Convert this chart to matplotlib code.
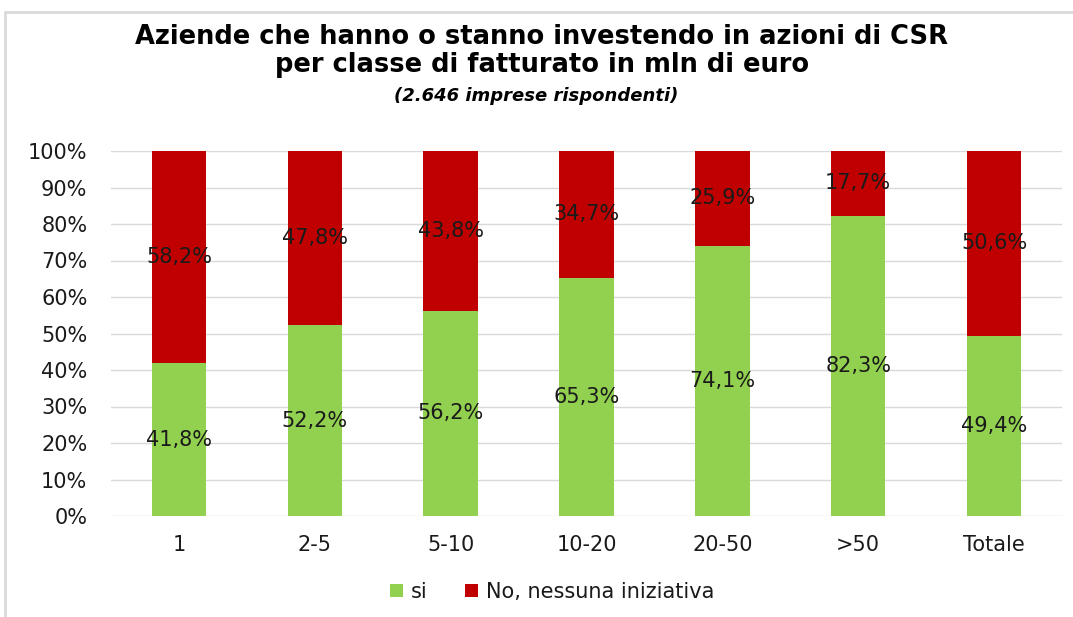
import matplotlib.pyplot as plt
from matplotlib.patches import Rectangle

categories = ["1", "2-5", "5-10", "10-20", "20-50", ">50", "Totale"]
si = [41.8, 52.2, 56.2, 65.3, 74.1, 82.3, 49.4]
no = [58.2, 47.8, 43.8, 34.7, 25.9, 17.7, 50.6]

green = "#92D050"
red = "#C00000"

plt.rcParams["font.family"] = ["DejaVu Sans"]

fig = plt.figure(figsize=(10.73, 6.17), dpi=100)
ax = fig.add_axes([111 / 1073, 1 - 516 / 617, (1062 - 111) / 1073, (516 - 151) / 617])

# outer chart border
fig.patches.append(Rectangle((5 / 1073, -0.05), 1.1, 1 - 12 / 617 + 0.05,
                             transform=fig.transFigure, fill=False,
                             edgecolor="#D9D9D9", linewidth=2))

x = range(len(categories))
ax.bar(x, si, width=0.4, color=green, label="si", zorder=2)
ax.bar(x, no, width=0.4, bottom=si, color=red, label="No, nessuna iniziativa", zorder=2)

def fmt(v):
    return f"{v:.1f}%".replace(".", ",")

for i in x:
    ax.text(i, si[i] / 2, fmt(si[i]), ha="center", va="center", fontsize=15, color="#1a1a1a", zorder=3)
    ax.text(i, si[i] + no[i] / 2, fmt(no[i]), ha="center", va="center", fontsize=15, color="#1a1a1a", zorder=3)

ax.set_xlim(-0.5, len(categories) - 0.5)
ax.set_ylim(0, 100)
ax.set_yticks(range(0, 101, 10))
ax.set_yticklabels([f"{t}%" for t in range(0, 101, 10)], fontsize=15, color="#1a1a1a")
ax.set_xticks(list(x))
ax.set_xticklabels(categories, fontsize=15, color="#1a1a1a")
ax.tick_params(axis="y", length=0, pad=17)
ax.tick_params(axis="x", length=0, pad=14)
ax.grid(axis="y", color="#D9D9D9", linewidth=1, zorder=0)
for s in ax.spines.values():
    s.set_visible(False)

fig.text(0.505, 0.918, "Aziende che hanno o stanno investendo in azioni di CSR\nper classe di fatturato in mln di euro",
         ha="center", va="center", fontsize=18.5, fontweight="bold", linespacing=1.1)
fig.text(0.5, 0.844, "(2.646 imprese rispondenti)", ha="center", va="center",
         fontsize=13, fontweight="bold", style="italic")

ax.legend(loc="upper center", bbox_to_anchor=(0.464, -0.13), ncol=2, frameon=False,
          fontsize=15, handlelength=0.6, handleheight=0.6, columnspacing=1.8, handletextpad=0.4,
          labelcolor="#1a1a1a")

fig.savefig("out.png", dpi=100)
